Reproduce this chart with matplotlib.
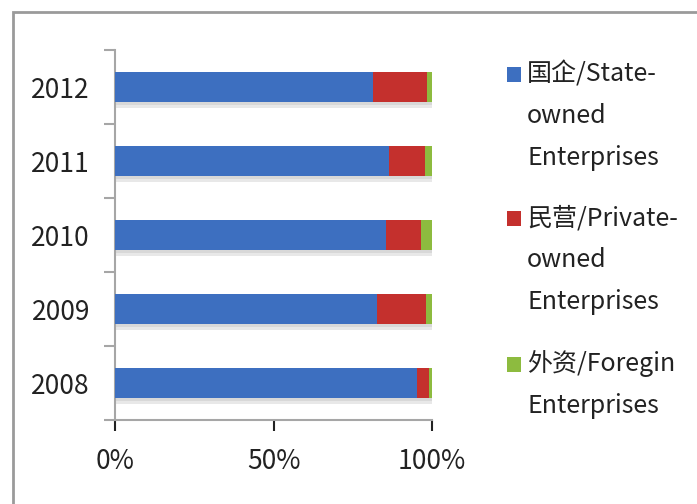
import matplotlib
matplotlib.use("Agg")
import matplotlib.pyplot as plt
import matplotlib.patheffects as pe
from matplotlib.patches import Rectangle
import numpy as np

years = ["2008", "2009", "2010", "2011", "2012"]
state_owned = [95.2, 82.5, 85.4, 86.3, 81.3]
private_owned = [3.7, 15.5, 11.0, 11.5, 17.2]
foreign = [1.1, 2.0, 3.6, 2.2, 1.5]
series_labels = [
    ["国企/State-", "owned", "Enterprises"],
    ["民营/Private-", "owned", "Enterprises"],
    ["外资/Foregin", "Enterprises"],
]
xtick_labels = ["0%", "50%", "100%"]
colors = ["#3D6FC0", "#C4302D", "#8DBB3F"]

FONT = ["Noto Sans CJK SC", "DejaVu Sans"]
plt.rcParams["font.family"] = FONT

fig = plt.figure(figsize=(6.97, 5.04), dpi=100)
ax = fig.add_axes([115/697, 84/504, 317/697, 370/504])

y = np.arange(len(years))
shares = np.array([state_owned, private_owned, foreign], dtype=float)
shares = shares / shares.sum(axis=0)
left = np.zeros(len(years))
shadow = [pe.SimplePatchShadow(offset=(1, -4), shadow_rgbFace="#9a9a9a", alpha=0.22),
          pe.SimplePatchShadow(offset=(1, -2), shadow_rgbFace="#9a9a9a", alpha=0.2),
          pe.Normal()]
for vals, c in zip(shares, colors):
    bars = ax.barh(y, vals, left=left, height=0.41, color=c, edgecolor="none", zorder=3)
    for b in bars:
        b.set_path_effects(shadow)
    left = left + vals

ax.set_xlim(0, 1)
ax.set_ylim(-0.5, len(years) - 0.5)
ax.set_yticks(y)
ax.set_yticklabels(years, fontsize=19)
ax.set_yticks(np.arange(-0.5, len(years)), minor=True)
ax.tick_params(axis="y", which="major", length=0, pad=18)
ax.tick_params(axis="y", which="minor", length=8, color="#A6A6A6", width=1.5)
ax.set_xticks([0, 0.5, 1])
ax.set_xticklabels(xtick_labels, fontsize=19)
ax.tick_params(axis="x", length=8, color="#A6A6A6", width=1.5, pad=12)
for s in ["top", "right"]:
    ax.spines[s].set_visible(False)
for s in ["left", "bottom"]:
    ax.spines[s].set_color("#A6A6A6")
    ax.spines[s].set_linewidth(1.5)
ax.tick_params(colors="#222222", which="major")

# outer chart frame
fig.patches.append(Rectangle((13/697, -0.1), 1.2, 1.0 - 12/504 + 0.1,
                             transform=fig.transFigure, fill=False,
                             edgecolor="#9A9A9A", linewidth=2))

# legend
H = 504.0
line_step = 42
group_starts = [74, 218, 364]
for lines, c, y0 in zip(series_labels, colors, group_starts):
    fig.patches.append(Rectangle((507/697, 1 - (y0 + 8)/H), 14/697, 15/H,
                                 transform=fig.transFigure, facecolor=c,
                                 edgecolor="none"))
    for i, t in enumerate(lines):
        fig.text(527/697, 1 - (y0 + i*line_step)/H, t, fontsize=18,
                 va="center", ha="left", color="#222222")

fig.savefig("out.png", dpi=100)
